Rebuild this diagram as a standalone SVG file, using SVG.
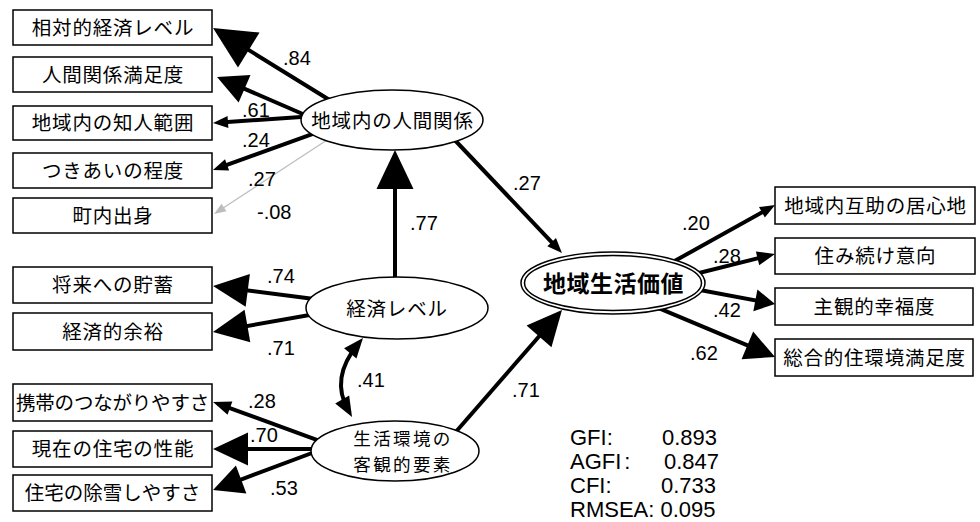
<svg xmlns="http://www.w3.org/2000/svg" width="980" height="522" viewBox="0 0 980 522">
<style>
.box{fill:#fff;stroke:#000;stroke-width:1.5}
.ell{fill:#fff;stroke:#000;stroke-width:1.5}
.jt{font-family:"Noto Sans CJK JP","Noto Sans CJK SC",sans-serif;font-size:19.5px;letter-spacing:0.8px;text-anchor:middle;fill:#000}
.j2{font-family:"Noto Sans CJK JP","Noto Sans CJK SC",sans-serif;font-size:17.6px;letter-spacing:2.3px;text-anchor:middle;fill:#000}
.jb{font-family:"Noto Sans CJK JP","Noto Sans CJK SC",sans-serif;font-size:23px;font-weight:bold;letter-spacing:0.5px;text-anchor:middle;fill:#000}
.num{font-family:"Liberation Sans",Arial,sans-serif;font-size:20px;fill:#000}
.st{font-family:"Liberation Sans",Arial,sans-serif;font-size:22px;fill:#000}
.ar{fill:none;stroke:#000;stroke-width:4}
.gr{fill:none;stroke:#bdbdbd;stroke-width:1.3}
</style>
<defs>
<marker id="m84" markerUnits="userSpaceOnUse" markerWidth="42" markerHeight="41" refX="21" refY="20.5" orient="auto" overflow="visible"><path d="M0,0 L42,20.5 L0,41 z" fill="#000"/></marker>
<marker id="m77" markerUnits="userSpaceOnUse" markerWidth="39" markerHeight="37" refX="19.5" refY="18.5" orient="auto" overflow="visible"><path d="M0,0 L39,18.5 L0,37 z" fill="#000"/></marker>
<marker id="mL" markerUnits="userSpaceOnUse" markerWidth="35" markerHeight="33" refX="17.5" refY="16.5" orient="auto" overflow="visible"><path d="M0,0 L35,16.5 L0,33 z" fill="#000"/></marker>
<marker id="mM" markerUnits="userSpaceOnUse" markerWidth="30" markerHeight="30" refX="15" refY="15" orient="auto" overflow="visible"><path d="M0,0 L30,15 L0,30 z" fill="#000"/></marker>
<marker id="m42" markerUnits="userSpaceOnUse" markerWidth="20" markerHeight="22" refX="10" refY="11" orient="auto" overflow="visible"><path d="M0,0 L20,11 L0,22 z" fill="#000"/></marker>
<marker id="mS" markerUnits="userSpaceOnUse" markerWidth="18" markerHeight="14" refX="9" refY="7" orient="auto" overflow="visible"><path d="M0,0 L18,7 L0,14 z" fill="#000"/></marker>
<marker id="mXS" markerUnits="userSpaceOnUse" markerWidth="15" markerHeight="12" refX="7.5" refY="6" orient="auto" overflow="visible"><path d="M0,0 L15,6 L0,12 z" fill="#000"/></marker>
<marker id="mG" markerUnits="userSpaceOnUse" markerWidth="12" markerHeight="9" refX="6" refY="4.5" orient="auto" overflow="visible"><path d="M0,0 L12,4.5 L0,9 z" fill="#bdbdbd"/></marker>
<marker id="m41" markerUnits="userSpaceOnUse" markerWidth="20" markerHeight="16" refX="12" refY="8" orient="auto-start-reverse" overflow="visible"><path d="M0,0 L20,8 L0,16 z" fill="#000"/></marker>
</defs>
<rect width="980" height="522" fill="#fff"/>

<g id="connectors">
<line class="ar" x1="332" y1="101.5" x2="230.9" y2="39" marker-end="url(#m84)"/>
<line class="ar" x1="327" y1="124.5" x2="230.8" y2="82.9" marker-end="url(#mM)"/>
<line class="ar" x1="330" y1="115" x2="220.5" y2="122.5" marker-end="url(#mXS)"/>
<line class="ar" x1="329.5" y1="127.8" x2="220" y2="167.4" marker-end="url(#mXS)"/>
<line class="gr" x1="327" y1="140" x2="219" y2="210.7" marker-end="url(#mG)"/>
<line class="ar" x1="322" y1="300" x2="230.4" y2="288.2" marker-end="url(#mL)"/>
<line class="ar" x1="321" y1="313" x2="230.2" y2="329" marker-end="url(#mL)"/>
<line class="ar" x1="395" y1="282" x2="395" y2="169.5" marker-end="url(#m77)"/>
<line class="ar" x1="450" y1="135" x2="556.8" y2="247.6" marker-end="url(#mXS)"/>
<line class="ar" x1="450.3" y1="438.2" x2="550.5" y2="323.2" marker-end="url(#mL)"/>
<path class="ar" d="M357.9,344.2 Q330,378 348.1,410" marker-start="url(#m41)" marker-end="url(#m41)"/>
<line class="ar" x1="330.4" y1="444.9" x2="221.5" y2="405.1" marker-end="url(#mS)"/>
<line class="ar" x1="330" y1="449" x2="230.5" y2="449" marker-end="url(#mL)"/>
<line class="ar" x1="325.4" y1="448" x2="227.1" y2="484.8" marker-end="url(#mM)"/>
<line class="ar" x1="670" y1="263.6" x2="768.5" y2="208.7" marker-end="url(#mXS)"/>
<line class="ar" x1="690" y1="275.3" x2="766.3" y2="256.2" marker-end="url(#mS)"/>
<line class="ar" x1="686.5" y1="287.5" x2="765.2" y2="302.2" marker-end="url(#m42)"/>
<line class="ar" x1="655.1" y1="306.7" x2="761.2" y2="351.2" marker-end="url(#mM)"/>
</g>

<g id="n-soutai"><rect class="box" x="13" y="10" width="199" height="35"/><text class="jt" x="113" y="34.5">相対的経済レベル</text></g>
<g id="n-ningen-manzoku"><rect class="box" x="13" y="57" width="199" height="35"/><text class="jt" x="113" y="81.5">人間関係満足度</text></g>
<g id="n-chijin"><rect class="box" x="13" y="106" width="199" height="34"/><text class="jt" x="113" y="130">地域内の知人範囲</text></g>
<g id="n-tsukiai"><rect class="box" x="13" y="153" width="199" height="35"/><text class="jt" x="113" y="177.5">つきあいの程度</text></g>
<g id="n-chonai"><rect class="box" x="13" y="198" width="199" height="35"/><text class="jt" x="113" y="222.5">町内出身</text></g>
<g id="n-chochiku"><rect class="box" x="13" y="267" width="199" height="36"/><text class="jt" x="113" y="292">将来への貯蓄</text></g>
<g id="n-yoyu"><rect class="box" x="13" y="313" width="199" height="37"/><text class="jt" x="113" y="338.5">経済的余裕</text></g>
<g id="n-keitai"><rect class="box" x="13" y="384" width="199" height="37"/><text class="jt" x="112.5" y="409.5" style="letter-spacing:-0.2px">携帯のつながりやすさ</text></g>
<g id="n-seino"><rect class="box" x="13" y="431" width="199" height="36"/><text class="jt" x="113" y="456">現在の住宅の性能</text></g>
<g id="n-josetsu"><rect class="box" x="13" y="475" width="199" height="36"/><text class="jt" x="112.5" y="500" style="letter-spacing:0px">住宅の除雪しやすさ</text></g>

<g id="n-ningen"><ellipse class="ell" cx="392" cy="120" rx="91" ry="30"/><text class="jt" x="392.5" y="127.5">地域内の人間関係</text></g>
<g id="n-keizai"><ellipse class="ell" cx="397" cy="308" rx="91" ry="31"/><text class="jt" x="397" y="315.5">経済レベル</text></g>
<g id="n-seikatsu"><ellipse class="ell" cx="395" cy="451" rx="84" ry="30"/><text class="j2"><tspan x="403" y="444.5">生活環境の</tspan><tspan x="403" dy="26">客観的要素</tspan></text></g>
<g id="n-kachi"><ellipse class="ell" cx="613" cy="283" rx="92" ry="31"/><ellipse class="ell" cx="613" cy="283" rx="88.5" ry="27.5"/><text class="jb" x="613.5" y="292">地域生活価値</text></g>

<g id="n-kyoshin"><rect class="box" x="775" y="187" width="200" height="37"/><text class="jt" x="875.5" y="212.5">地域内互助の居心地</text></g>
<g id="n-sumitsuzuke"><rect class="box" x="775" y="238" width="200" height="36"/><text class="jt" x="875.5" y="263">住み続け意向</text></g>
<g id="n-kofuku"><rect class="box" x="775" y="288" width="198" height="37"/><text class="jt" x="874.5" y="313.5">主観的幸福度</text></g>
<g id="n-sokan"><rect class="box" x="775" y="339" width="198" height="37"/><text class="jt" x="874.5" y="364.5">総合的住環境満足度</text></g>

<g id="labels">
<text class="num" x="283" y="65">.84</text>
<text class="num" x="242" y="117">.61</text>
<text class="num" x="242" y="147">.24</text>
<text class="num" x="248" y="186">.27</text>
<text class="num" x="257" y="219">-.08</text>
<text class="num" x="267" y="283">.74</text>
<text class="num" x="267" y="355">.71</text>
<text class="num" x="248" y="408">.28</text>
<text class="num" x="250" y="442">.70</text>
<text class="num" x="270" y="495">.53</text>
<text class="num" x="357" y="387">.41</text>
<text class="num" x="512" y="397">.71</text>
<text class="num" x="513" y="190">.27</text>
<text class="num" x="410" y="230">.77</text>
<text class="num" x="682" y="230">.20</text>
<text class="num" x="713" y="263">.28</text>
<text class="num" x="713" y="317">.42</text>
<text class="num" x="690" y="360">.62</text>
</g>

<g id="stats">
<text class="st" x="570" y="445">GFI:</text><text class="st" x="662" y="445">0.893</text>
<text class="st" x="570" y="469">AGFI<tspan dx="3">:</tspan></text><text class="st" x="664" y="469">0.847</text>
<text class="st" x="570" y="493">CFI:</text><text class="st" x="661" y="493">0.733</text>
<text class="st" x="570" y="517">RMSEA: 0.095</text>
</g>
</svg>
